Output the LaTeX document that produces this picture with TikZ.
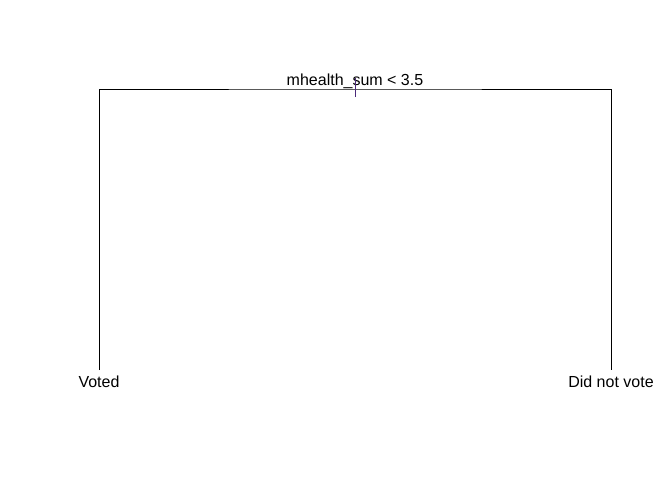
\documentclass[tikz,border=0pt]{standalone}
\usepackage{fontspec}
\setmainfont{Liberation Sans}
\definecolor{Tick}{HTML}{4B2A7A}
\tikzset{
  leaf/.style={anchor=base,inner sep=0pt},
  split/.style={anchor=base,inner sep=0pt},
  branch/.style={black,line width=.75pt}
}
\begin{document}
\begin{tikzpicture}[x=0.75pt,y=-0.75pt,font=\fontsize{12}{14}\selectfont]
\path[use as bounding box] (0,0) rectangle (672,480);
% split at the root
\coordinate (root) at (355,89);
\node[split] (rule) at (355,85) {mhealth\_sum < 3.5};
% the two leaves
\node[leaf] (voted) at (99,387) {Voted};
\node[leaf] (novote) at (611,387) {Did not vote};
\coordinate (votedtop) at (99,370);
\coordinate (novotetop) at (611,370);
\draw[branch] (votedtop) |- (root) -| (novotetop);
\draw[Tick,line width=.75pt] ([yshift=-6]root) -- ([yshift=8]root);
\end{tikzpicture}
\end{document}
